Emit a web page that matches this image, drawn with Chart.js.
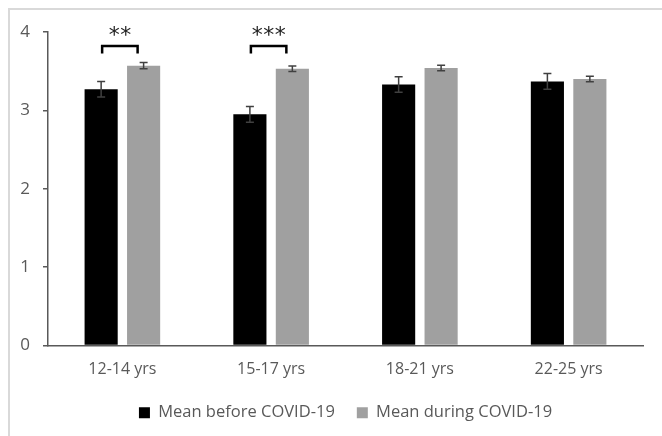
<!DOCTYPE html>
<html>
<head>
<meta charset="utf-8">
<script src="https://cdn.jsdelivr.net/npm/chart.js@4"></script>
<style>
  html, body { margin:0; padding:0; background:#fff; }
  #wrap { position:relative; width:662px; height:436px; }
</style>
</head>
<body>
<div id="wrap"><canvas id="chart"></canvas></div>
<script>
// ================= DATOS =================
const categorias = ['12-14 yrs', '15-17 yrs', '18-21 yrs', '22-25 yrs'];
const mediaAntes = [3.27, 2.95, 3.33, 3.37];
const errorAntes = [0.10, 0.10, 0.10, 0.10];
const mediaDurante = [3.57, 3.53, 3.54, 3.40];
const errorDurante = [0.04, 0.035, 0.035, 0.035];
const significancia = ['**', '***', '', ''];
const nivelCorchete = 3.82;
const ticksY = [0, 1, 2, 3, 4];

const GRIS_TXT = '#595959';
const FUENTE = "'Open Sans', 'Liberation Sans', sans-serif";

// ================= MARCO =================
const marco = {
  id: 'marco',
  beforeDraw(chart){
    const c = chart.ctx;
    c.save();
    c.fillStyle = '#fff';
    c.fillRect(0, 0, chart.width, chart.height);
    c.strokeStyle = '#d9d9d9';
    c.lineWidth = 2;
    c.strokeRect(9, 9, chart.width + 10, chart.height + 10);
    c.restore();
  }
};

// ================= BARRAS DE ERROR =================
const barrasError = {
  id: 'barrasError',
  afterDatasetsDraw(chart){
    const c = chart.ctx;
    const y = chart.scales.y;
    const errores = [errorAntes, errorDurante];
    c.save();
    c.strokeStyle = '#404040';
    c.lineWidth = 1.5;
    chart.data.datasets.forEach((ds, i) => {
      chart.getDatasetMeta(i).data.forEach((bar, j) => {
        const v = ds.data[j], e = errores[i][j];
        const y1 = y.getPixelForValue(v + e), y2 = y.getPixelForValue(v - e);
        c.beginPath();
        c.moveTo(bar.x, y1); c.lineTo(bar.x, y2);
        c.moveTo(bar.x - 4, y1); c.lineTo(bar.x + 4, y1);
        c.moveTo(bar.x - 4, y2); c.lineTo(bar.x + 4, y2);
        c.stroke();
      });
    });
    c.restore();
  }
};

// ================= SIGNIFICANCIA =================
const corchetes = {
  id: 'corchetes',
  afterDatasetsDraw(chart){
    const c = chart.ctx;
    const y = chart.scales.y;
    const m0 = chart.getDatasetMeta(0).data;
    const m1 = chart.getDatasetMeta(1).data;
    c.save();
    significancia.forEach((s, j) => {
      if(!s) return;
      const xa = m0[j].x + 1, xb = m1[j].x - 6;
      const yTop = y.getPixelForValue(nivelCorchete);
      const yPie = y.getPixelForValue(nivelCorchete - 0.095);
      c.strokeStyle = '#000';
      c.lineWidth = 2.5;
      c.beginPath();
      c.moveTo(xa, yPie); c.lineTo(xa, yTop); c.lineTo(xb, yTop); c.lineTo(xb, yPie);
      c.stroke();
      // estrellas
      c.fillStyle = '#222';
      c.font = "22px 'DejaVu Sans', sans-serif";
      c.textAlign = 'center';
      c.textBaseline = 'middle';
      const centro = (xa + xb) / 2, paso = 11.5;
      for(let k = 0; k < s.length; k++){
        const x = centro + (k - (s.length - 1) / 2) * paso;
        c.fillText('*', x, yTop - 10);
      }
    });
    c.restore();
  }
};

// ================= GRAFICA =================
new Chart(document.getElementById('chart'), {
  type: 'bar',
  data: {
    labels: categorias,
    datasets: [
      { label: 'Mean before COVID-19', data: mediaAntes, backgroundColor: '#000000' },
      { label: 'Mean during COVID-19', data: mediaDurante, backgroundColor: '#a0a0a0' }
    ]
  },
  options: {
    responsive: true,
    maintainAspectRatio: false,
    animation: false,
    layout: { padding: { top: 32, right: 19, left: 0, bottom: 5 } },
    datasets: { bar: { categoryPercentage: 0.571, barPercentage: 0.78 } },
    plugins: {
      tooltip: { enabled: false },
      legend: {
        position: 'bottom',
        fullSize: false,
        labels: {
          color: GRIS_TXT,
          font: { family: FUENTE, size: 16.5 },
          boxWidth: 11, boxHeight: 11,
          padding: 22
        }
      }
    },
    scales: {
      x: {
        grid: { display: false, drawTicks: false },
        border: { display: true, color: GRIS_TXT, width: 1.5 },
        ticks: { color: GRIS_TXT, font: { family: FUENTE, size: 16 }, padding: 14 },
        afterFit: s => { s.height = 37; }
      },
      y: {
        min: 0, max: 4,
        afterBuildTicks: s => { s.ticks = ticksY.map(v => ({ value: v })); },
        grid: { drawOnChartArea: false, drawTicks: true, tickLength: 5, color: GRIS_TXT, lineWidth: 1.5 },
        border: { display: true, color: GRIS_TXT, width: 1.5 },
        ticks: { color: GRIS_TXT, font: { family: FUENTE, size: 17 }, padding: 13 },
        afterFit: s => { s.width = 48; }
      }
    }
  },
  plugins: [marco, barrasError, corchetes]
});
</script>
</body>
</html>
